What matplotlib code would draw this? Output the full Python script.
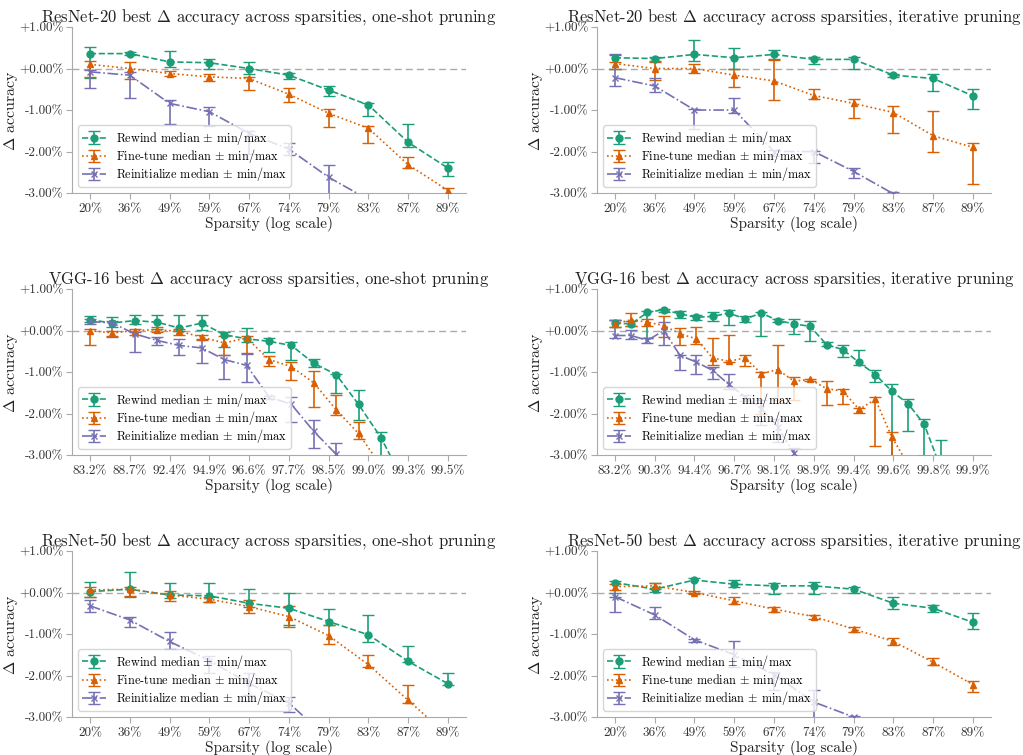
import numpy as np
import matplotlib.pyplot as plt
from matplotlib.ticker import FuncFormatter

plt.rcParams.update({
    'font.family': 'serif',
    'font.serif': ['cmr10'],
    'mathtext.fontset': 'cm',
    'axes.unicode_minus': False,
    'axes.formatter.use_mathtext': True,
})

KEEP = 0.8  # fraction of weights kept per pruning round

# x axis: pruning rounds and the tick labels shown on each axis
resnet_rounds_start = 1
vgg_rounds_start = 8
resnet_tick_rounds = np.arange(1, 11)
resnet_tick_labels = ['20%', '36%', '49%', '59%', '67%', '74%', '79%', '83%', '87%', '89%']
vgg_oneshot_tick_rounds = np.linspace(8, 24, 10)
vgg_oneshot_tick_labels = ['83.2%', '88.7%', '92.4%', '94.9%', '96.6%',
                           '97.7%', '98.5%', '99.0%', '99.3%', '99.5%']
vgg_iter_tick_rounds = np.linspace(8, 30, 10)
vgg_iter_tick_labels = ['83.2%', '90.3%', '94.4%', '96.7%', '98.1%',
                        '98.9%', '99.4%', '99.6%', '99.8%', '99.9%']

# ResNet-20, one-shot pruning (median, min, max delta accuracy in %)
r20_os_rw = [0.36, 0.36, 0.16, 0.14, 0.00, -0.16, -0.52, -0.88, -1.78, -2.40]
r20_os_rw_min = [-0.22, 0.32, 0.04, 0.00, -0.14, -0.26, -0.66, -1.14, -1.88, -2.58]
r20_os_rw_max = [0.52, 0.40, 0.42, 0.24, 0.16, -0.10, -0.42, -0.84, -1.34, -2.26]
r20_os_ft = [0.10, 0.00, -0.12, -0.20, -0.24, -0.62, -1.08, -1.44, -2.32, -2.94]
r20_os_ft_min = [-0.20, -0.26, -0.18, -0.30, -0.52, -0.80, -1.40, -1.80, -2.40, -3.10]
r20_os_ft_max = [0.18, 0.16, -0.06, -0.14, -0.20, -0.46, -0.98, -1.38, -2.12, -2.88]
r20_os_ri = [-0.08, -0.16, -0.84, -1.04, -1.56, -1.94, -2.62, -3.16]
r20_os_ri_min = [-0.46, -0.70, -1.34, -1.39, -2.06, -2.08, -3.05, -3.40]
r20_os_ri_max = [-0.04, -0.08, -0.76, -0.92, -1.50, -1.80, -2.32, -3.05]

# ResNet-20, iterative pruning
r20_it_rw = [0.26, 0.24, 0.34, 0.26, 0.34, 0.22, 0.22, -0.16, -0.24, -0.66]
r20_it_rw_min = [0.00, 0.18, 0.18, 0.00, 0.22, 0.10, 0.00, -0.20, -0.54, -0.98]
r20_it_rw_max = [0.32, 0.28, 0.68, 0.50, 0.44, 0.28, 0.28, -0.12, -0.12, -0.49]
r20_it_ft = [0.12, 0.00, 0.00, -0.16, -0.30, -0.65, -0.84, -1.06, -1.62, -1.90]
r20_it_ft_min = [0.00, -0.28, -0.10, -0.44, -0.76, -0.73, -1.18, -1.56, -2.00, -2.78]
r20_it_ft_max = [0.16, 0.16, 0.10, 0.00, 0.20, -0.49, -0.74, -0.90, -1.02, -1.80]
r20_it_ri = [-0.22, -0.42, -1.00, -1.00, -2.00, -2.00, -2.48, -3.02]
r20_it_ri_min = [-0.42, -0.56, -1.45, -1.08, -2.10, -2.28, -2.64, -3.20]
r20_it_ri_max = [0.34, -0.24, -0.98, -0.72, -1.96, -1.98, -2.40, -2.98]

# VGG-16, one-shot pruning (from round 8)
vgg_os_rw = [0.26, 0.18, 0.24, 0.20, 0.06, 0.18, -0.10, -0.20, -0.26, -0.36,
             -0.79, -1.06, -1.78, -2.58, -3.62]
vgg_os_rw_min = [0.20, 0.08, 0.16, 0.04, -0.02, 0.02, -0.40, -0.28, -0.52, -0.72,
                 -0.88, -1.50, -2.16, -3.05, -3.90]
vgg_os_rw_max = [0.34, 0.32, 0.38, 0.38, 0.38, 0.38, -0.04, 0.06, -0.18, -0.28,
                 -0.68, -1.04, -1.44, -2.44, -3.30]
vgg_os_ft = [0.00, -0.06, 0.00, 0.02, -0.02, -0.16, -0.30, -0.18, -0.70, -0.87,
             -1.26, -1.91, -2.48, -3.26]
vgg_os_ft_min = [-0.34, -0.12, -0.10, -0.04, -0.10, -0.22, -0.60, -0.55, -0.86, -1.20,
                 -1.84, -2.04, -2.62, -3.50]
vgg_os_ft_max = [0.04, -0.02, 0.04, 0.08, 0.03, -0.10, -0.12, -0.12, -0.62, -0.76,
                 -0.98, -1.56, -2.20, -3.10]
vgg_os_ri = [0.22, 0.18, -0.08, -0.24, -0.36, -0.42, -0.70, -0.84, -1.60, -1.78,
             -2.43, -2.98, -3.60]
vgg_os_ri_min = [0.16, -0.16, -0.52, -0.36, -0.58, -0.78, -1.16, -1.24, -1.64, -2.20,
                 -2.82, -3.30, -3.90]
vgg_os_ri_max = [0.28, 0.24, -0.04, -0.16, -0.20, -0.20, -0.58, -0.56, -1.58, -1.60,
                 -2.16, -2.72, -3.30]

# VGG-16, iterative pruning (from round 8)
vgg_it_rw = [0.18, 0.16, 0.44, 0.50, 0.40, 0.32, 0.34, 0.42, 0.28, 0.42, 0.24,
             0.16, 0.10, -0.34, -0.46, -0.77, -1.06, -1.46, -1.76, -2.26, -3.30]
vgg_it_rw_min = [0.08, 0.12, -0.18, 0.44, 0.30, 0.26, 0.24, 0.14, 0.20, -0.14, 0.20,
                 -0.08, -0.26, -0.38, -0.64, -0.82, -1.24, -3.05, -2.42, -3.02, -3.60]
vgg_it_rw_max = [0.26, 0.22, 0.48, 0.52, 0.46, 0.38, 0.44, 0.50, 0.35, 0.44, 0.28,
                 0.28, 0.22, -0.28, -0.36, -0.46, -0.94, -1.30, -1.66, -2.14, -2.63]
vgg_it_ft = [0.16, 0.26, 0.20, 0.12, -0.08, -0.20, -0.66, -0.74, -0.66, -1.04,
             -0.94, -1.22, -1.18, -1.40, -1.46, -1.90, -1.66, -2.56, -3.22]
vgg_it_ft_min = [0.08, 0.10, 0.10, -0.16, -0.36, -0.32, -0.84, -0.76, -0.86, -2.00,
                 -1.68, -1.68, -1.22, -1.80, -1.76, -1.98, -2.78, -3.05, -3.50]
vgg_it_ft_max = [0.26, 0.42, 0.28, 0.36, 0.06, 0.08, -0.18, -0.10, -0.58, -1.00,
                 -0.34, -1.12, -1.16, -1.22, -1.42, -1.86, -1.60, -2.44, -3.05]
vgg_it_ri = [-0.12, -0.12, -0.24, 0.00, -0.60, -0.76, -0.96, -1.30, -1.60, -1.88,
             -2.32, -2.96, -3.60]
vgg_it_ri_min = [-0.18, -0.20, -0.30, -0.34, -0.96, -1.04, -1.16, -1.40, -1.70, -2.28,
                 -2.68, -3.20, -3.90]
vgg_it_ri_max = [0.26, 0.02, -0.18, 0.20, -0.58, -0.60, -0.88, -1.04, -1.56, -1.68,
                 -2.12, -2.84, -3.30]

# ResNet-50, one-shot pruning
r50_os_rw = [0.02, 0.08, -0.06, -0.08, -0.26, -0.38, -0.70, -1.02, -1.66, -2.20]
r50_os_rw_min = [-0.12, -0.10, -0.14, -0.24, -0.36, -0.78, -0.78, -1.20, -1.68, -2.22]
r50_os_rw_max = [0.26, 0.50, 0.22, 0.22, 0.08, -0.02, -0.40, -0.54, -1.30, -1.94]
r50_os_ft = [0.06, 0.08, -0.06, -0.16, -0.34, -0.58, -1.04, -1.74, -2.60, -3.45]
r50_os_ft_min = [-0.10, -0.08, -0.20, -0.24, -0.50, -0.84, -1.24, -1.80, -2.66, -3.60]
r50_os_ft_max = [0.14, 0.14, 0.04, -0.10, -0.18, -0.32, -0.78, -1.50, -2.24, -3.20]
r50_os_ri = [-0.32, -0.66, -1.18, -1.64, -2.19, -2.66, -3.54]
r50_os_ri_min = [-0.48, -0.82, -1.36, -1.95, -2.48, -2.88, -3.80]
r50_os_ri_max = [-0.18, -0.60, -0.94, -1.52, -1.93, -2.52, -3.30]

# ResNet-50, iterative pruning
r50_it_rw = [0.24, 0.08, 0.30, 0.20, 0.16, 0.16, 0.08, -0.26, -0.38, -0.72]
r50_it_rw_min = [-0.10, 0.02, 0.00, 0.14, -0.04, -0.04, -0.02, -0.40, -0.48, -0.88]
r50_it_rw_max = [0.28, 0.24, 0.34, 0.30, 0.24, 0.26, 0.14, -0.10, -0.30, -0.50]
r50_it_ft = [0.14, 0.16, 0.00, -0.20, -0.40, -0.58, -0.88, -1.18, -1.68, -2.22]
r50_it_ft_min = [0.06, 0.08, -0.04, -0.28, -0.46, -0.64, -0.96, -1.26, -1.74, -2.40]
r50_it_ft_max = [0.20, 0.24, 0.04, -0.12, -0.36, -0.54, -0.82, -1.10, -1.58, -2.14]
r50_it_ri = [-0.10, -0.54, -1.14, -1.50, -1.98, -2.64, -3.00, -3.60]
r50_it_ri_min = [-0.48, -0.64, -1.20, -1.80, -2.36, -3.10, -3.20, -3.90]
r50_it_ri_max = [0.00, -0.36, -1.12, -1.18, -1.92, -2.34, -2.98, -3.30]

GREEN, ORANGE, PURPLE = '#1b9e77', '#d95f02', '#7570b3'
STYLES = [
    ('Rewind median $\\pm$ min/max', GREEN, 'o', '--'),
    ('Fine-tune median $\\pm$ min/max', ORANGE, '^', ':'),
    ('Reinitialize median $\\pm$ min/max', PURPLE, 'x', '-.'),
]


def to_sparsity(rounds):
    return 1 - KEEP ** np.asarray(rounds, dtype=float)


def fwd(s):
    s = np.clip(np.asarray(s, dtype=float), None, 1 - 1e-12)
    return -np.log(1 - s)


def inv(t):
    return 1 - np.exp(-np.asarray(t, dtype=float))


def draw_panel(ax, title, start, series, tick_rounds, tick_labels):
    ax.set_xscale('function', functions=(fwd, inv))
    ax.axhline(0, color='#aaaaaa', linestyle=(0, (5, 3)), linewidth=1.0, zorder=1)
    for (label, color, marker, ls), (med, lo, hi) in zip(STYLES, series):
        med, lo, hi = np.array(med), np.array(lo), np.array(hi)
        x = to_sparsity(start + np.arange(len(med)))
        ax.errorbar(x, med, yerr=[med - lo, hi - med], color=color, marker=marker,
                    linestyle=ls, linewidth=1.2, elinewidth=1.2, capsize=4,
                    markersize=5, label=label, zorder=3)
    k0, k1 = tick_rounds[0], tick_rounds[-1]
    pad = 0.05 * (k1 - k0)
    ax.set_xlim(to_sparsity(k0 - pad), to_sparsity(k1 + pad))
    ax.set_xticks(to_sparsity(tick_rounds), labels=tick_labels)
    ax.minorticks_off()
    ax.set_ylim(-3, 1)
    ax.set_yticks([-3, -2, -1, 0, 1])
    ax.yaxis.set_major_formatter(FuncFormatter(lambda v, p: f'{v:+.2f}%'))
    ax.set_title(title, fontsize=12, pad=3, color='#222222')
    ax.set_xlabel('Sparsity (log scale)', fontsize=11, labelpad=0, color='#222222')
    ax.set_ylabel('$\\Delta$ accuracy', fontsize=11.5, color='#222222')
    ax.yaxis.set_label_coords(-0.132, 0.5)
    for side in ('top', 'right'):
        ax.spines[side].set_visible(False)
    for side in ('left', 'bottom'):
        ax.spines[side].set_color('#aaaaaa')
    ax.tick_params(colors='#aaaaaa', labelcolor='#333333', labelsize=9.5, length=4)
    ax.tick_params(axis='y', pad=2)
    ax.legend(loc='lower left', fontsize=8.8, framealpha=0.8, edgecolor='#cccccc',
              labelspacing=0.02, borderpad=0.3)


fig, axes = plt.subplots(3, 2, figsize=(10.23, 7.55), dpi=100)
fig.subplots_adjust(left=0.0704, right=0.9687, bottom=0.0503, top=0.9642,
                    wspace=0.3325, hspace=0.578)

draw_panel(axes[0, 0], 'ResNet-20 best $\\Delta$ accuracy across sparsities, one-shot pruning',
           resnet_rounds_start,
           [(r20_os_rw, r20_os_rw_min, r20_os_rw_max),
            (r20_os_ft, r20_os_ft_min, r20_os_ft_max),
            (r20_os_ri, r20_os_ri_min, r20_os_ri_max)],
           resnet_tick_rounds, resnet_tick_labels)
draw_panel(axes[0, 1], 'ResNet-20 best $\\Delta$ accuracy across sparsities, iterative pruning',
           resnet_rounds_start,
           [(r20_it_rw, r20_it_rw_min, r20_it_rw_max),
            (r20_it_ft, r20_it_ft_min, r20_it_ft_max),
            (r20_it_ri, r20_it_ri_min, r20_it_ri_max)],
           resnet_tick_rounds, resnet_tick_labels)
draw_panel(axes[1, 0], 'VGG-16 best $\\Delta$ accuracy across sparsities, one-shot pruning',
           vgg_rounds_start,
           [(vgg_os_rw, vgg_os_rw_min, vgg_os_rw_max),
            (vgg_os_ft, vgg_os_ft_min, vgg_os_ft_max),
            (vgg_os_ri, vgg_os_ri_min, vgg_os_ri_max)],
           vgg_oneshot_tick_rounds, vgg_oneshot_tick_labels)
draw_panel(axes[1, 1], 'VGG-16 best $\\Delta$ accuracy across sparsities, iterative pruning',
           vgg_rounds_start,
           [(vgg_it_rw, vgg_it_rw_min, vgg_it_rw_max),
            (vgg_it_ft, vgg_it_ft_min, vgg_it_ft_max),
            (vgg_it_ri, vgg_it_ri_min, vgg_it_ri_max)],
           vgg_iter_tick_rounds, vgg_iter_tick_labels)
draw_panel(axes[2, 0], 'ResNet-50 best $\\Delta$ accuracy across sparsities, one-shot pruning',
           resnet_rounds_start,
           [(r50_os_rw, r50_os_rw_min, r50_os_rw_max),
            (r50_os_ft, r50_os_ft_min, r50_os_ft_max),
            (r50_os_ri, r50_os_ri_min, r50_os_ri_max)],
           resnet_tick_rounds, resnet_tick_labels)
draw_panel(axes[2, 1], 'ResNet-50 best $\\Delta$ accuracy across sparsities, iterative pruning',
           resnet_rounds_start,
           [(r50_it_rw, r50_it_rw_min, r50_it_rw_max),
            (r50_it_ft, r50_it_ft_min, r50_it_ft_max),
            (r50_it_ri, r50_it_ri_min, r50_it_ri_max)],
           resnet_tick_rounds, resnet_tick_labels)

fig.savefig('out.png', dpi=100)
